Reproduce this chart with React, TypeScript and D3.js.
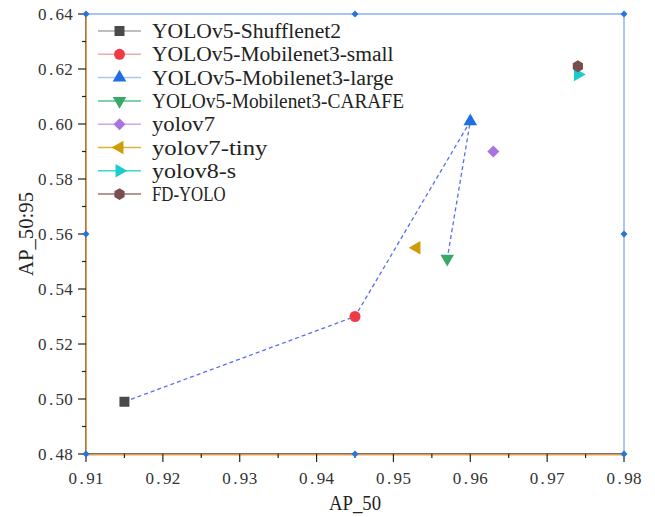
import React from 'react';
import * as d3 from 'd3';

const width = 655;
const height = 517;
const margin = { top: 14, right: 31, bottom: 63, left: 86 };

const names = [
  'YOLOv5-Shufflenet2',
  'YOLOv5-Mobilenet3-small',
  'YOLOv5-Mobilenet3-large',
  'YOLOv5-Mobilenet3-CARAFE',
  'yolov7',
  'yolov7-tiny',
  'yolov8-s',
  'FD-YOLO',
];
const ap50 = [0.915, 0.945, 0.96, 0.957, 0.963, 0.953, 0.974, 0.974];
const ap5095 = [0.499, 0.53, 0.601, 0.551, 0.59, 0.555, 0.618, 0.621];
// which models are joined by the dashed line, in order
const pathOrder = [0, 1, 2, 3];
const xTicks = [0.91, 0.92, 0.93, 0.94, 0.95, 0.96, 0.97, 0.98];
const yTicks = [0.48, 0.5, 0.52, 0.54, 0.56, 0.58, 0.6, 0.62, 0.64];

const markColors = ['#4a4a4a', '#ee3b45', '#1f6fe0', '#3aa86a', '#a874e0', '#d09a08', '#1ccccc', '#7a4e4e'];
const lineColors = ['#a8a8a8', '#f8a8a8', '#a8c8f4', '#58c088', '#c8a8f0', '#e0b038', '#38d8d8', '#9a7474'];

const hexagon = {
  draw(ctx: any, size: number) {
    const r = Math.sqrt(size / 2.598);
    for (let i = 0; i < 6; i++) {
      const a = (Math.PI / 3) * i + Math.PI / 6;
      const px = r * Math.cos(a);
      const py = r * Math.sin(a);
      if (i === 0) ctx.moveTo(px, py);
      else ctx.lineTo(px, py);
    }
    ctx.closePath();
  },
};

// symbol type, area and rotation per model
const symbols: any[] = [
  [d3.symbolSquare, 100, 0],
  [d3.symbolCircle, 95, 0],
  [d3.symbolTriangle, 80, 0],
  [d3.symbolTriangle, 80, 180],
  [d3.symbolSquare, 72, 45],
  [d3.symbolTriangle, 80, -90],
  [d3.symbolTriangle, 80, 90],
  [hexagon, 90, 0],
];

const font = "'Liberation Serif', 'Times New Roman', serif";

// fixed-pitch digits (the original uses a half-width CJK font)
function MonoText({ s, x, y, pitch, size, anchor = 'start', fill = '#222' }: any) {
  const total = s.length * pitch;
  const start = anchor === 'middle' ? x - total / 2 : anchor === 'end' ? x - total : x;
  const xs = s.split('').map((_: string, k: number) => start + k * pitch + pitch / 2);
  return (
    <text x={xs.join(' ')} y={y} textAnchor="middle" fontFamily={font} fontSize={size} fill={fill}>
      {s}
    </text>
  );
}

function Marker({ i, x, y }: { i: number; x: number; y: number }) {
  const [type, size, rot] = symbols[i];
  const d = d3.symbol().type(type).size(size)() as string;
  return <path d={d} transform={`translate(${x},${y}) rotate(${rot})`} fill={markColors[i]} />;
}

function Handle({ x, y }: { x: number; y: number }) {
  return (
    <g transform={`translate(${x},${y})`}>
      <path d="M0,-3.5L3.5,0L0,3.5L-3.5,0Z" fill="#2a72dc" />
    </g>
  );
}

export default function App() {
  const xScale = d3.scaleLinear().domain([0.91, 0.98]).range([margin.left, width - margin.right]);
  const yScale = d3.scaleLinear().domain([0.48, 0.64]).range([height - margin.bottom, margin.top]);
  const x0 = xScale(0.91);
  const x1 = xScale(0.98);
  const y0 = yScale(0.48);
  const y1 = yScale(0.64);

  const xMinor = d3.range(7).map(i => (xTicks[i] + xTicks[i + 1]) / 2);
  const yMinor = d3.range(8).map(i => (yTicks[i] + yTicks[i + 1]) / 2);

  const line = d3
    .line<number>()
    .x(i => xScale(ap50[i]))
    .y(i => yScale(ap5095[i]));

  const xm = (x0 + x1) / 2;
  const ym = (y0 + y1) / 2;

  return (
    <svg width={width} height={height} style={{ position: 'absolute', left: 0, top: 0, background: '#fff' }}>
      {/* frame */}
      <line x1={x0} x2={x1} y1={y1} y2={y1} stroke="#a9c5f2" strokeWidth={2} />
      <line x1={x1} x2={x1} y1={y1} y2={y0} stroke="#5b90dc" strokeWidth={1} />
      <line x1={x0} x2={x0} y1={y1} y2={y0} stroke="#e0a050" strokeWidth={2} />
      <line x1={x0 - 0.5} x2={x0 - 0.5} y1={y1} y2={y0} stroke="#6a5a4a" strokeWidth={0.6} />
      <line x1={x0} x2={x1} y1={y0 + 0.5} y2={y0 + 0.5} stroke="#e0a050" strokeWidth={2} />
      <line x1={x0} x2={x1} y1={y0 - 0.5} y2={y0 - 0.5} stroke="#555" strokeWidth={0.8} />

      {/* x axis ticks */}
      {xTicks.map(t => (
        <g key={`xt${t}`}>
          <line x1={xScale(t)} x2={xScale(t)} y1={y0} y2={y0 + 8} stroke="#222" strokeWidth={1.2} />
          <MonoText s={t.toFixed(2)} x={xScale(t)} y={y0 + 30} pitch={8.8} size={17} anchor="middle" fill="#333" />
        </g>
      ))}
      {xMinor.map(t => (
        <line key={`xm${t}`} x1={xScale(t)} x2={xScale(t)} y1={y0} y2={y0 + 4} stroke="#222" strokeWidth={1.2} />
      ))}

      {/* y axis ticks */}
      {yTicks.map(t => (
        <g key={`yt${t}`}>
          <line x1={x0 - 8} x2={x0} y1={yScale(t)} y2={yScale(t)} stroke="#222" strokeWidth={1.2} />
          <MonoText s={t.toFixed(2)} x={x0 - 13} y={yScale(t) + 6} pitch={8.8} size={17} anchor="end" fill="#333" />
        </g>
      ))}
      {yMinor.map(t => (
        <line key={`ym${t}`} x1={x0 - 4} x2={x0} y1={yScale(t)} y2={yScale(t)} stroke="#222" strokeWidth={1.2} />
      ))}

      {/* axis titles */}
      <text x={xm} y={height - 7} textAnchor="middle" fontFamily={font} fontSize={20} fill="#222"
        textLength={52} lengthAdjust="spacingAndGlyphs">
        AP_50
      </text>
      <text
        transform={`translate(33,${ym}) rotate(-90)`}
        textAnchor="middle"
        fontFamily={font}
        fontSize={20}
        fill="#222"
        textLength={84}
        lengthAdjust="spacingAndGlyphs"
      >
        AP_50:95
      </text>

      {/* dashed connection */}
      <path d={line(pathOrder) as string} fill="none" stroke="#5a6cf2" strokeWidth={1.3} strokeDasharray="4,3" />

      {/* points */}
      {names.map((n, i) => (
        <Marker key={n} i={i} x={xScale(ap50[i])} y={yScale(ap5095[i])} />
      ))}

      {/* selection handles */}
      {[
        [x0, y1], [xm, y1], [x1, y1],
        [x0, ym], [x1, ym],
        [x0, y0], [xm, y0], [x1, y0],
      ].map(([hx, hy], i) => (
        <Handle key={`h${i}`} x={hx} y={hy} />
      ))}

      {/* legend */}
      {names.map((n, i) => {
        const ly = 31 + i * 23.3;
        return (
          <g key={`lg${n}`}>
            <line x1={98} x2={141} y1={ly} y2={ly} stroke={lineColors[i]} strokeWidth={1.5} />
            <Marker i={i} x={119.5} y={ly} />
            <text x={152} y={ly + 7} fontFamily={font} fontSize={20} fill="#222"
              textLength={n.length * 10.5} lengthAdjust="spacingAndGlyphs">
              {n}
            </text>
          </g>
        );
      })}
    </svg>
  );
}
